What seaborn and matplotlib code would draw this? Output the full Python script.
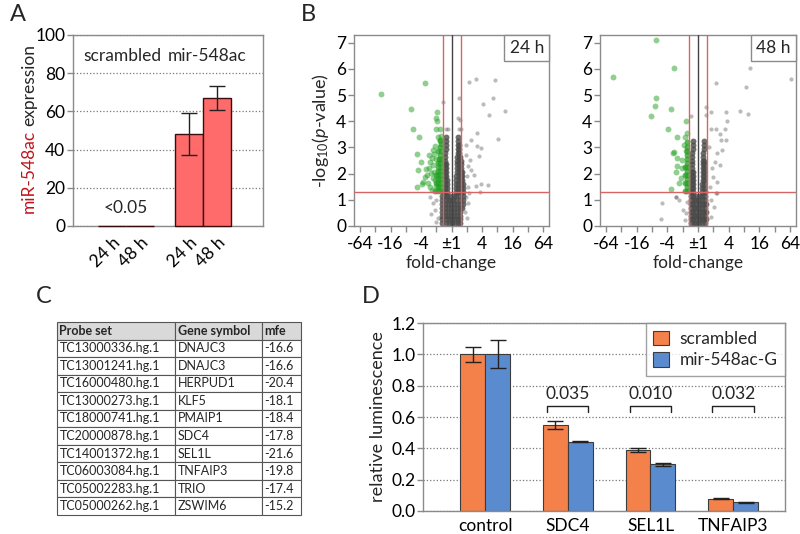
import numpy as np
import pandas as pd
import matplotlib
matplotlib.use("Agg")
import matplotlib.pyplot as plt
import seaborn as sns
from matplotlib.offsetbox import AnchoredText
from matplotlib.patches import Patch

sns.set_theme(style="white")
plt.rcParams['font.family'] = ['Lato', 'DejaVu Sans']
plt.rcParams['mathtext.fontset'] = 'custom'
plt.rcParams['mathtext.rm'] = 'Lato'
plt.rcParams['mathtext.it'] = 'Lato:italic'

# ---- panel A: miR-548ac expression
a_groups = ['scrambled', 'scrambled', 'mir-548ac', 'mir-548ac']
a_times = ['24 h', '48 h', '24 h', '48 h']
a_values = [0.05, 0.05, 48, 67]
a_err = [0, 0, 11, 6.5]

# ---- panel B: volcano plots (x = signed log2 fold-change, y = -log10 p)
fc_ticks = ['-64', '-16', '-4', '±1', '4', '16', '64']
# dense centre of the 24 h plot, row by row (y, x values)
core24 = [
    (0.1, [-0.6, -0.4, -0.2, 0.0, 0.2, 0.4, 0.57]),
    (0.25, [-0.6, -0.4, -0.2, 0.0, 0.2, 0.4, 0.58]),
    (0.4, [-0.62, -0.42, -0.22, -0.02, 0.18, 0.38, 0.58]),
    (0.55, [-0.62, -0.42, -0.22, -0.02, 0.18, 0.38, 0.58]),
    (0.7, [-0.64, -0.44, -0.24, -0.04, 0.16, 0.36, 0.56, 0.7]),
    (0.85, [-0.64, -0.44, -0.24, -0.04, 0.16, 0.36, 0.56, 0.72]),
    (1.0, [-0.62, -0.44, -0.26, -0.08, 0.12, 0.32, 0.52, 0.72]),
    (1.15, [-0.6, -0.44, -0.28, -0.12, 0.14, 0.32, 0.52, 0.72]),
    (1.3, [-0.58, -0.44, -0.3, 0.26, 0.44, 0.62, 0.76]),
    (1.45, [-0.46, -0.32, 0.28, 0.44, 0.6, 0.74]),
    (1.6, [-0.46, -0.33, 0.3, 0.45, 0.6, 0.72]),
    (1.75, [-0.45, -0.33, 0.31, 0.46, 0.6, 0.7]),
    (1.9, [-0.45, -0.34, 0.32, 0.46, 0.6, 0.68]),
    (2.05, [-0.44, -0.34, 0.33, 0.47, 0.6, 0.66]),
    (2.2, [-0.44, -0.34, 0.34, 0.48, 0.62]),
    (2.35, [-0.43, -0.35, 0.36, 0.5, 0.62]),
    (2.5, [-0.42, 0.37, 0.5, 0.6]),
    (2.65, [-0.42, 0.38, 0.5, 0.58]),
    (2.8, [-0.41, 0.39, 0.5]),
    (2.95, [-0.4, 0.4, 0.5]),
    (3.1, [-0.4, 0.41, 0.48]),
    (3.25, [-0.38, 0.42]),
    (3.4, [-0.36, 0.44]),
]
down24 = [
    (1.35, [-0.72, -0.9, -1.08]),
    (1.5, [-0.74, -0.92]),
    (1.65, [-0.72, -0.9, -1.05]),
    (1.8, [-0.74, -0.92]),
    (1.95, [-0.72, -0.88, -1.02]),
    (2.1, [-0.74, -0.9]),
    (2.25, [-0.72, -0.86]),
    (2.4, [-0.74, -0.9]),
    (2.55, [-0.72, -0.84]),
    (2.7, [-0.74]),
    (2.85, [-0.72, -0.86]),
    (3.0, [-0.74]),
    (3.15, [-0.72]),
    (3.3, [-0.74]),
]
extra24_x = [-4.63, -1.72, -2.63, -0.93, -1.0, -0.96, -2.52, -2.15, -1.04, -0.78, -0.89, -0.67,
             -0.78, -2.3, -1.48, -1.98, -1.39, -2.2, -1.7, -1.22, -1.76, -1.91, -2.26, -1.54,
             -1.87, -1.33, -1.11, -1.0, -1.26, -1.2, -1.1, -1.3, -1.45, -1.15, -1.25, -1.4,
             -1.6, -1.05, -1.15,
             1.17, 1.61, 2.87, 2.04, 2.7, 2.43, 3.48, 3.02, 1.65, 0.48, -0.57, 1.65, 1.93,
             1.78, 1.22, 1.28, 1.5, 1.93, 1.61, 1.17, 1.07, 0.85, 0.41, 0.52, 0.48, 0.63,
             -0.39, -0.24, -1.43, -1.22, -1.11, -1.33, -0.89, 2.37, 1.83, 1.0, 1.1, 0.95,
             1.05, 0.95, 1.0, -1.0, -1.05, 0.95, 1.3]
extra24_y = [5.05, 5.47, 4.48, 4.36, 4.13, 4.0, 3.7, 3.41, 3.7, 3.7, 3.42, 3.45,
             3.23, 2.76, 2.72, 2.43, 2.46, 2.15, 2.17, 2.34, 1.89, 1.61, 1.48, 1.63,
             1.7, 2.02, 1.76, 1.51, 1.38, 2.9, 3.05, 2.6, 2.2, 2.05, 1.85, 1.5,
             1.95, 2.55, 2.75,
             5.49, 5.62, 5.59, 4.67, 4.89, 4.25, 4.4, 3.32, 3.55, 4.89, 4.73, 3.04, 2.98,
             2.66, 2.53, 2.15, 1.95, 1.61, 1.51, 1.25, 0.87, 0.55, 4.12, 4.06, 3.7, 3.7,
             3.7, 3.7, 1.12, 0.87, 0.61, 0.46, 0.29, 1.57, 1.28, 1.9, 2.3, 2.7,
             1.5, 1.1, 0.3, 0.15, 1.0, 3.1, 3.3]

core48 = [
    (0.1, [-0.46, -0.28, -0.1, 0.08, 0.26, 0.44]),
    (0.25, [-0.48, -0.3, -0.12, 0.06, 0.24, 0.42, 0.52]),
    (0.4, [-0.46, -0.28, -0.1, 0.08, 0.26, 0.44]),
    (0.55, [-0.48, -0.3, -0.12, 0.06, 0.24, 0.42, 0.52]),
    (0.7, [-0.46, -0.28, -0.1, 0.08, 0.26, 0.44]),
    (0.85, [-0.48, -0.3, -0.12, 0.06, 0.24, 0.42, 0.52]),
    (1.0, [-0.46, -0.28, -0.1, 0.08, 0.26, 0.44]),
    (1.15, [-0.46, -0.3, -0.14, 0.1, 0.26, 0.44]),
    (1.3, [-0.44, -0.3, 0.28, 0.44]),
    (1.45, [-0.42, -0.3, 0.28, 0.42]),
    (1.6, [-0.42, -0.31, 0.29, 0.42]),
    (1.75, [-0.41, -0.31, 0.3, 0.42]),
    (1.9, [-0.4, -0.31, 0.3, 0.42]),
    (2.05, [-0.4, -0.32, 0.31, 0.42]),
    (2.2, [-0.39, 0.32, 0.42]),
    (2.35, [-0.38, 0.32, 0.42]),
    (2.5, [-0.38, 0.33, 0.42]),
    (2.65, [-0.37, 0.34]),
    (2.8, [-0.36, 0.35]),
    (2.95, [-0.35, 0.36]),
    (3.1, [-0.34, 0.37]),
    (3.25, [-0.33, 0.38]),
]
down48 = [
    (1.35, [-0.72, -0.88]),
    (1.5, [-0.74]),
    (1.65, [-0.72, -0.88]),
    (1.8, [-0.74]),
    (1.95, [-0.72, -0.86]),
    (2.1, [-0.74]),
    (2.25, [-0.72, -0.86]),
    (2.4, [-0.74]),
    (2.55, [-0.72]),
    (2.7, [-0.74]),
    (2.85, [-0.72]),
    (3.0, [-0.74]),
    (3.2, [-0.72]),
]
extra48_x = [-5.58, -2.76, -1.6, -2.74, -2.8, -3.04, -1.74, -1.96, -0.8, -1.39, -1.6, -1.41,
             -1.78, -1.63, -1.35, -1.07, -1.39, -1.13, -1.24, -1.02, -0.85, -0.7, -0.91, -0.8,
             3.37, 6.08, 1.2, 3.11, 0.5, 0.87, 1.81, 2.74, 3.26, 0.5, 1.92, 1.74, 1.43,
             -0.48, 0.83, 1.15, 1.48, 1.8, 1.59, 1.26, 1.13, 1.43, 0.96, 1.26, 1.15, 1.04,
             0.83, -1.46, -2.33, -2.43, -0.98, -0.85, -1.24, -1.45, 1.26, 0.75, 0.9, 0.8,
             -0.75, -0.8, 0.85]
extra48_y = [5.68, 7.1, 6.05, 4.89, 4.57, 4.19, 4.48, 3.7, 4.0, 3.4, 2.81, 2.08,
             1.42, 2.78, 2.59, 2.53, 2.3, 1.83, 1.63, 2.21, 3.42, 3.55, 3.1, 2.85,
             6.05, 5.63, 5.47, 5.31, 4.56, 4.36, 4.36, 4.41, 4.28, 4.23, 4.02, 3.7, 3.52,
             4.2, 3.7, 3.7, 3.3, 3.3, 2.91, 2.78, 2.46, 2.34, 1.89, 1.7, 1.25, 0.74,
             0.36, 1.12, 0.87, 0.27, 0.61, 0.23, 1.0, 1.1, 1.25, 3.0, 2.2, 1.5,
             0.9, 0.5, 1.0]

# ---- panel C: table
c_probes = ['TC13000336.hg.1', 'TC13001241.hg.1', 'TC16000480.hg.1', 'TC13000273.hg.1',
            'TC18000741.hg.1', 'TC20000878.hg.1', 'TC14001372.hg.1', 'TC06003084.hg.1',
            'TC05002283.hg.1', 'TC05000262.hg.1']
c_genes = ['DNAJC3', 'DNAJC3', 'HERPUD1', 'KLF5', 'PMAIP1', 'SDC4', 'SEL1L', 'TNFAIP3',
           'TRIO', 'ZSWIM6']
c_mfe = ['-16.6', '-16.6', '-20.4', '-18.1', '-18.4', '-17.8', '-21.6', '-19.8', '-17.4', '-15.2']

# ---- panel D: luciferase
d_genes = ['control', 'SDC4', 'SEL1L', 'TNFAIP3']
d_conds = ['scrambled', 'mir-548ac-G']
d_scr = [1.0, 0.55, 0.39, 0.077]
d_scr_err = [0.05, 0.025, 0.012, 0.003]
d_mir = [1.0, 0.443, 0.297, 0.055]
d_mir_err = [0.09, 0.004, 0.008, 0.002]
d_pvals = ['0.035', '0.010', '0.032']

SPINE = '#8a8a8a'
FS = 12.5
D_COLORS = ['#f4804a', '#5b8bcf']
GREEN = '#22a022'


def style(ax):
    for s in ax.spines.values():
        s.set_visible(True)
        s.set_color(SPINE)
        s.set_linewidth(1)
    ax.tick_params(axis='both', which='both', colors=SPINE, labelcolor='black',
                   length=4, width=1, direction='out', labelsize=FS, left=True, bottom=True)
    ax.tick_params(axis='y', pad=1.5)


def rows_to_xy(rows):
    xs, ys = [], []
    for y, row in rows:
        xs += row
        ys += [y] * len(row)
    return xs, ys


fig = plt.figure(figsize=(8, 5.34), dpi=100)

# ================= A
axA = fig.add_axes([0.0913, 0.5768, 0.2375, 0.3577])
dfa = pd.DataFrame({'group': a_groups, 'time': a_times, 'value': a_values})
sns.barplot(data=dfa, x='group', y='value', hue='time', order=['scrambled', 'mir-548ac'],
            hue_order=['24 h', '48 h'], palette=['#ff6b6b', '#ff6b6b'], saturation=1,
            edgecolor='#3a0c0c', linewidth=1, width=0.727, gap=0, errorbar=None,
            legend=False, ax=axA)
barsA = sorted([p for p in axA.patches if p.get_width() > 0], key=lambda p: p.get_x())
for p in barsA:
    p.set_zorder(3)
    p.set_clip_on(False)
xa = [p.get_x() + p.get_width() / 2 for p in barsA]
for x, v, e in zip(xa, a_values, a_err):
    if e > 0:
        axA.errorbar(x, v, yerr=e, fmt='none', ecolor='#222', elinewidth=1, capsize=6,
                     capthick=1, zorder=4)
style(axA)
axA.set_ylim(0, 100)
axA.set_xlim(-0.69, 1.78)
axA.set_yticks([0, 20, 40, 60, 80, 100])
axA.yaxis.grid(True, linestyle=':', color='#777', linewidth=0.9)
axA.set_axisbelow(True)
axA.set_xticks(xa)
axA.set_xticklabels(a_times, rotation=45, ha='right', va='top', rotation_mode='anchor')
axA.tick_params(axis='x', length=0, pad=6)
axA.set_xlabel('')
axA.set_ylabel('')
axA.text(-0.05, 89, 'scrambled', ha='center', va='center', fontsize=FS)
axA.text(1.05, 89, 'mir-548ac', ha='center', va='center', fontsize=FS)
axA.text(0, 9.5, '<0.05', ha='center', va='center', fontsize=FS)

t1 = fig.text(0.036, 0.601, 'miR-548ac', rotation=90, ha='center', va='bottom',
              fontsize=FS, color='#c0141b')
fig.canvas.draw()
bb = t1.get_window_extent()
fig.text(0.036, (bb.y1 + 4) / fig.bbox.height, 'expression', rotation=90, ha='center',
         va='bottom', fontsize=FS)

# ================= B
volc = [
    ([0.4425, 0.5768, 0.244, 0.3577], core24, down24, extra24_x, extra24_y, '24 h'),
    ([0.75, 0.5768, 0.245, 0.3577], core48, down48, extra48_x, extra48_y, '48 h'),
]
fc_cut = np.log2(1.5)
p_cut = -np.log10(0.05)
for i, (rect, core, down, ex, ey, lab) in enumerate(volc):
    ax = fig.add_axes(rect)
    cx, cy = rows_to_xy(core)
    dx, dy = rows_to_xy(down)
    dfc = pd.DataFrame({'lfc': cx, 'lp': cy})
    dfg = pd.DataFrame({'lfc': dx, 'lp': dy})
    dfe = pd.DataFrame({'lfc': ex, 'lp': ey})
    dfe['down'] = (dfe['lfc'] < -fc_cut) & (dfe['lp'] > p_cut)
    sns.scatterplot(data=dfe[~dfe['down']], x='lfc', y='lp', color='#555555', s=9, alpha=0.4,
                    linewidth=0, ax=ax, legend=False)
    sns.scatterplot(data=dfc, x='lfc', y='lp', color='#4a4a4a', s=18, alpha=0.8,
                    linewidth=0, ax=ax, legend=False)
    sns.scatterplot(data=dfg, x='lfc', y='lp', color=GREEN, s=18, alpha=0.75,
                    linewidth=0, ax=ax, legend=False)
    sns.scatterplot(data=dfe[dfe['down']], x='lfc', y='lp', color=GREEN, s=18, alpha=0.5,
                    linewidth=0, ax=ax, legend=False)
    ax.axvline(0, color='#444444', lw=1, zorder=4)
    for xv in (-fc_cut, fc_cut):
        ax.axvline(xv, color='#d76565', lw=1, zorder=4)
    ax.axhline(p_cut, color='#d76565', lw=1, zorder=4)
    style(ax)
    ax.set_xlim(-6.4, 6.4)
    ax.set_ylim(0, 7.3)
    ax.set_yticks(range(0, 8))
    ax.set_xticks([-6, -4, -2, 0, 2, 4, 6])
    ax.set_xticklabels(fc_ticks)
    ax.set_xticks([-5, -3, -1, 1, 3, 5], minor=True)
    ax.set_xlabel('fold-change', fontsize=FS, labelpad=2)
    if i == 0:
        ax.set_ylabel(r'-log$_{10}$($p$-value)', fontsize=FS + 0.5, labelpad=4)
    else:
        ax.set_ylabel('')
    at = AnchoredText(lab, loc='upper right', prop=dict(size=FS), frameon=True,
                      borderpad=0, pad=0.3)
    at.patch.set_boxstyle('square,pad=0')
    at.patch.set_edgecolor(SPINE)
    at.patch.set_linewidth(1)
    ax.add_artist(at)

# ================= C
axC = fig.add_axes([0.071, 0.0356, 0.305, 0.3614])
axC.axis('off')
cells = [[p, g, m] for p, g, m in zip(c_probes, c_genes, c_mfe)]
tbl = axC.table(cellText=cells, colLabels=['Probe set', 'Gene symbol', 'mfe'],
                colWidths=[0.484, 0.357, 0.159], cellLoc='left', colLoc='left',
                bbox=[0, 0, 1, 1])
tbl.auto_set_font_size(False)
tbl.set_fontsize(9)
pads = [0.022, 0.03, 0.065]
for (r, c), cell in tbl.get_celld().items():
    cell.set_edgecolor('#555555')
    cell.set_linewidth(0.8)
    cell.PAD = pads[c]
    if r == 0:
        cell.set_facecolor('#d9d9d9')
        cell.get_text().set_fontweight('bold')

# ================= D
axD = fig.add_axes([0.529, 0.0431, 0.4525, 0.352])
dfd = pd.DataFrame({'gene': d_genes * 2,
                    'cond': [d_conds[0]] * 4 + [d_conds[1]] * 4,
                    'val': d_scr + d_mir})
sns.barplot(data=dfd, x='gene', y='val', hue='cond', order=d_genes,
            hue_order=d_conds, palette=D_COLORS, saturation=1, edgecolor='#3c3c3c',
            linewidth=0.8, width=0.6, gap=0, errorbar=None, legend=False, ax=axD)
barsD = sorted([p for p in axD.patches if p.get_width() > 0], key=lambda p: p.get_x())
d_vals = [v for pair in zip(d_scr, d_mir) for v in pair]
d_errs = [e for pair in zip(d_scr_err, d_mir_err) for e in pair]
xd = [p.get_x() + p.get_width() / 2 for p in barsD]
axD.errorbar(xd, d_vals, yerr=d_errs, fmt='none', ecolor='#222', elinewidth=1,
             capsize=6, capthick=1)
for i, pv in enumerate(d_pvals, start=1):
    axD.plot([i - 0.25, i - 0.25, i + 0.25, i + 0.25], [0.63, 0.672, 0.672, 0.63],
             color='#222', lw=1)
    axD.text(i, 0.695, pv, ha='center', va='bottom', fontsize=FS)
style(axD)
axD.set_ylim(0, 1.2)
axD.set_xlim(-0.75, 3.63)
axD.set_yticks([0, 0.2, 0.4, 0.6, 0.8, 1.0, 1.2])
axD.set_yticklabels(['%.1f' % v for v in [0, 0.2, 0.4, 0.6, 0.8, 1.0, 1.2]])
axD.yaxis.grid(True, linestyle=':', color='#777', linewidth=0.9)
axD.set_axisbelow(True)
axD.tick_params(axis='x', length=0, pad=5)
axD.set_xlabel('')
axD.set_ylabel('relative luminescence', fontsize=FS + 0.5, labelpad=4)
handles = [Patch(facecolor=c, edgecolor='#3c3c3c', linewidth=0.8) for c in D_COLORS]
leg = axD.legend(handles, d_conds, loc='upper right', fontsize=FS, frameon=True, fancybox=False,
                 borderaxespad=0, handlelength=0.9, handleheight=0.9, handletextpad=0.6,
                 borderpad=0.45, labelspacing=0.3)
leg.get_frame().set_edgecolor(SPINE)
leg.get_frame().set_linewidth(1)

# panel letters
for x, y, s in [(0.0225, 0.972, 'A'), (0.386, 0.972, 'B'), (0.055, 0.444, 'C'), (0.463, 0.444, 'D')]:
    fig.text(x, y, s, fontsize=17, ha='center', va='center')

fig.savefig('out.png', dpi=100)
